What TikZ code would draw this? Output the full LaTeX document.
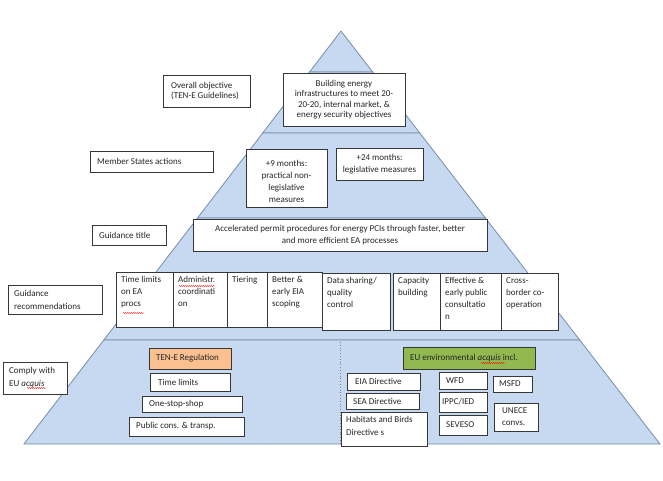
\documentclass[tikz,border=0pt]{standalone}
\usepackage{fontspec}
\setmainfont{Carlito}
\usetikzlibrary{decorations.pathmorphing}
\definecolor{pyrfill}{RGB}{198,217,241}
\definecolor{pyredge}{RGB}{120,140,170}
\definecolor{boxedge}{RGB}{55,55,55}
\definecolor{orangefill}{RGB}{250,192,144}
\definecolor{greenfill}{RGB}{146,184,80}
\tikzset{
  layer/.style={fill=pyrfill,draw=pyredge,line width=0.8pt,line join=miter},
  boxst/.style={draw=boxedge,fill=white,line width=0.8pt,anchor=north west,inner sep=0pt,outer sep=0pt},
  txt/.style={inner sep=0pt,font=\fontsize{9}{10.5}\selectfont,text=black!85},
  posL/.style={anchor=west,align=left,at={([xshift=#1]\bxn.west)}},
  posL/.default=7pt,
  posT/.style={anchor=north west,align=left,font=\fontsize{9}{12}\selectfont,at={([xshift=5pt,yshift=-4pt]\bxn.north west)}},
  posC/.style={anchor=center,align=center,at={(\bxn.center)}},
  spell/.style={draw=red,line width=0.4pt,decorate,decoration={snake,segment length=2pt,amplitude=0.5pt}},
  divider/.style={draw=gray,dotted,line width=0.8pt}
}
\newcommand{\bx}[8]{\def\bxn{#1}%
  \node[boxst,#6,minimum width={#4-#2},minimum height={#5-#3}] (#1) at (#2,#3) {};
  \node[txt,#7] (#1-t) {#8};}
\begin{document}
\begin{tikzpicture}[x=1pt,y=-1pt]
\useasboundingbox (0,0) rectangle (663,480);
% pyramid layers
\path[layer] (341,31) -- (372.7,72) -- (309.5,72) -- cycle;
\path[layer] (309.5,72) -- (372.7,72) -- (419.8,133) -- (262.7,133) -- cycle;
\path[layer] (262.7,133) -- (419.8,133) -- (485.4,218) -- (197.5,218) -- cycle;
\path[layer] (197.5,218) -- (485.4,218) -- (579.7,340) -- (103.8,340) -- cycle;
\path[layer] (103.8,340) -- (579.7,340) -- (660,444) -- (24,444) -- cycle;
\coordinate (divtop) at (340,342);
\coordinate (divbot) at (340,443);
\draw[divider] (divtop) -- (divbot);
% level 1
\bx{ovobj}{163}{75}{250}{107}{}{posL=8pt}{Overall objective\\(TEN-E Guidelines)}
\bx{build}{283}{73}{405}{126}{}{posC}{Building energy\\infrastructures to meet 20-\\20-20, internal market, \&\\energy security objectives}
% level 2
\bx{msa}{90}{151}{213}{172}{}{posL}{Member States actions}
\bx{nine}{246}{149}{327}{207}{}{posC,font=\fontsize{9}{12}\selectfont,yshift=-3pt}{+9 months:\\practical non-\\legislative\\measures}
\bx{tf}{336}{148}{423}{180}{}{posC,font=\fontsize{9}{11.5}\selectfont}{+24 months:\\legislative measures}
% level 3
\bx{gt}{92}{225}{166}{245}{}{posL}{Guidance title}
\bx{acc}{193}{219}{487}{251}{}{posC,font=\fontsize{9}{12}\selectfont}{Accelerated permit procedures for energy PCIs through faster, better\\and more efficient EA processes}
% level 4
\bx{gr}{8}{285}{102}{314}{}{posL=6pt,font=\fontsize{9}{13}\selectfont}{Guidance\\recommendations}
\bx{r1}{116}{272}{173}{327}{}{posT}{Time limits\\on EA\\procs}
\bx{r2}{173}{272}{227}{327}{}{posT}{Administr.\\coordinati\\on}
\bx{r3}{227}{272}{267}{327}{}{posT}{Tiering}
\bx{r4}{267}{272}{322}{327}{}{posT}{Better \&\\early EIA\\scoping}
\bx{r5}{322}{273}{390}{330}{}{posT}{Data sharing/\\quality\\control}
\bx{r6}{393}{273}{440}{330}{}{posT}{Capacity\\building}
\bx{r7}{440}{273}{501}{330}{}{posT}{Effective \&\\early public\\consultatio\\n}
\bx{r8}{501}{273}{558}{330}{}{posT}{Cross-\\border co-\\operation}
% level 5
\bx{comply}{3}{362}{67}{394}{}{posL=6pt,font=\fontsize{9}{13}\selectfont}{Comply with\\EU \textit{acquis}}
\bx{tenr}{149}{348}{231}{369}{fill=orangefill}{posL}{TEN-E Regulation}
\bx{tl}{150}{373}{230}{391}{}{posL=8pt}{Time limits}
\bx{oss}{142}{396}{242}{412}{}{posL}{One-stop-shop}
\bx{pub}{129}{417}{244}{436}{}{posL}{Public cons. \& transp.}
\bx{euenv}{403}{347}{535}{369}{fill=greenfill}{posL}{EU environmental \textit{acquis} incl.}
\bx{eia}{347}{373}{420}{390}{}{posL=8pt}{EIA Directive}
\bx{sea}{346}{393}{419}{409}{}{posL}{SEA Directive}
\bx{hab}{341}{412}{427}{446}{}{posT,font=\fontsize{9}{13}\selectfont}{Habitats and Birds\\Directive s}
\bx{wfd}{439}{372}{487}{389}{}{posL}{WFD}
\bx{ippc}{439}{392}{487}{412}{}{posL=3pt}{IPPC/IED}
\bx{sev}{439}{415}{487}{435}{}{posL}{SEVESO}
\bx{msfd}{493}{376}{532}{392}{}{posL=6pt}{MSFD}
\bx{unece}{494}{403}{538}{431}{}{posL=8pt,font=\fontsize{9}{12}\selectfont}{UNECE\\convs.}
% spell-check underlines
\draw[spell] (123,313) -- (144,313);
\draw[spell] (179,286) -- (215,286);
\draw[spell] (27,388) -- (46,388);
\draw[spell] (481,363) -- (505,363);
\end{tikzpicture}
\end{document}
